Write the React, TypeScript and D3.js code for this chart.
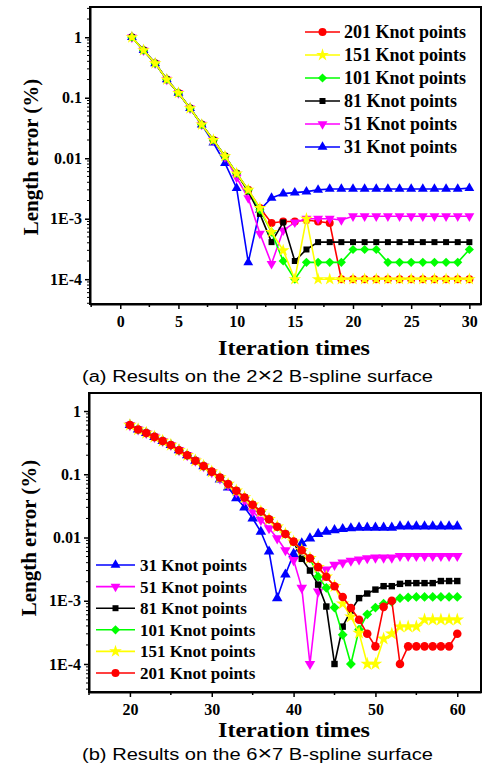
import React, { useEffect, useRef } from 'react';
import * as d3 from 'd3';

// ---- panel (a): 2x2 B-spline surface, iterations 1..30 ----
const itersA = [1, 2, 3, 4, 5, 6, 7, 8, 9, 10, 11, 12, 13, 14, 15, 16, 17, 18, 19, 20, 21, 22, 23, 24, 25, 26, 27, 28, 29, 30];

const a201 = [1, 0.61, 0.37, 0.2, 0.12, 0.067, 0.036, 0.02, 0.0108, 0.0056, 0.003, 0.0015, 8.5e-4, 9e-4, 9e-4, 9.5e-4, 9e-4, 8.5e-4, 1e-4, 1e-4, 1e-4, 1e-4, 1e-4, 1e-4, 1e-4, 1e-4, 1e-4, 1e-4, 1e-4, 1e-4];
const a151 = [1, 0.61, 0.37, 0.2, 0.12, 0.067, 0.036, 0.02, 0.0108, 0.0056, 0.003, 0.0015, 6e-4, 3e-4, 1e-4, 1e-3, 1e-4, 1e-4, 1e-4, 1e-4, 1e-4, 1e-4, 1e-4, 1e-4, 1e-4, 1e-4, 1e-4, 1e-4, 1e-4, 1e-4];
const a101 = [1, 0.61, 0.37, 0.2, 0.12, 0.067, 0.036, 0.02, 0.0108, 0.0056, 0.003, 0.0014, 6e-4, 2e-4, 1e-4, 1.9e-4, 1.9e-4, 1.9e-4, 1.9e-4, 3.1e-4, 3.1e-4, 3.1e-4, 1.9e-4, 1.9e-4, 1.9e-4, 1.9e-4, 1.9e-4, 1.9e-4, 1.9e-4, 3.1e-4];
const a81 = [1, 0.61, 0.37, 0.2, 0.12, 0.067, 0.036, 0.02, 0.0108, 0.0056, 0.0028, 0.0012, 4.1e-4, 8.7e-4, 2e-4, 3.1e-4, 4.1e-4, 4.1e-4, 4.1e-4, 4.1e-4, 4.1e-4, 4.1e-4, 4.1e-4, 4.1e-4, 4.1e-4, 4.1e-4, 4.1e-4, 4.1e-4, 4.1e-4, 4.1e-4];
const a51 = [1, 0.61, 0.37, 0.2, 0.12, 0.067, 0.036, 0.02, 0.0105, 0.0048, 0.0022, 5.7e-4, 1.8e-4, 6.4e-4, 8.7e-4, 1e-3, 1e-3, 1e-3, 9.5e-4, 1.1e-3, 1.1e-3, 1.1e-3, 1.1e-3, 1.1e-3, 1.1e-3, 1.1e-3, 1.1e-3, 1.1e-3, 1.1e-3, 1.1e-3];
const a31 = [1, 0.61, 0.37, 0.2, 0.12, 0.067, 0.036, 0.018, 0.0083, 0.0032, 1.9e-4, 1.4e-3, 2.2e-3, 2.6e-3, 2.7e-3, 2.8e-3, 3e-3, 3.1e-3, 3.1e-3, 3.1e-3, 3.1e-3, 3.1e-3, 3.1e-3, 3.1e-3, 3.1e-3, 3.1e-3, 3.1e-3, 3.1e-3, 3.1e-3, 3.2e-3];

// ---- panel (b): 6x7 B-spline surface, iterations 20..60 ----
const itersB = [20, 21, 22, 23, 24, 25, 26, 27, 28, 29, 30, 31, 32, 33, 34, 35, 36, 37, 38, 39, 40, 41, 42, 43, 44, 45, 46, 47, 48, 49, 50, 51, 52, 53, 54, 55, 56, 57, 58, 59, 60];

const b201 = [0.6, 0.51, 0.45, 0.39, 0.336, 0.29, 0.24, 0.2, 0.164, 0.135, 0.11, 0.089, 0.07, 0.055, 0.043, 0.033, 0.0257, 0.0195, 0.0148, 0.0114, 0.0086, 0.0063, 0.0047, 0.0034, 0.0024, 0.0017, 0.00115, 7.7e-4, 5e-4, 3e-4, 1.9e-4, 8e-4, 1e-3, 1e-4, 1.9e-4, 1.9e-4, 1.9e-4, 1.9e-4, 1.9e-4, 1.9e-4, 3e-4];
const b151 = [0.6, 0.51, 0.45, 0.39, 0.336, 0.29, 0.24, 0.2, 0.164, 0.135, 0.11, 0.089, 0.07, 0.055, 0.043, 0.033, 0.0257, 0.0195, 0.0148, 0.0114, 0.0086, 0.0063, 0.0047, 0.0034, 0.0024, 0.0017, 9e-4, 5.6e-4, 3.1e-4, 1e-4, 1e-4, 2.5e-4, 3e-4, 3.9e-4, 3.9e-4, 3.9e-4, 5e-4, 5e-4, 5e-4, 5e-4, 5e-4];
const b101 = [0.6, 0.51, 0.45, 0.39, 0.336, 0.29, 0.24, 0.2, 0.164, 0.135, 0.11, 0.089, 0.07, 0.055, 0.043, 0.033, 0.0257, 0.0195, 0.0148, 0.0114, 0.0086, 0.0063, 0.0047, 0.0024, 0.0016, 7.8e-4, 2.9e-4, 1e-4, 3.5e-4, 6.1e-4, 7.8e-4, 9e-4, 9.6e-4, 1.1e-3, 1.13e-3, 1.15e-3, 1.15e-3, 1.15e-3, 1.15e-3, 1.15e-3, 1.15e-3];
const b81 = [0.6, 0.51, 0.45, 0.39, 0.336, 0.29, 0.24, 0.2, 0.164, 0.135, 0.11, 0.089, 0.07, 0.055, 0.043, 0.033, 0.0257, 0.0195, 0.0148, 0.0114, 0.0086, 0.0046, 0.003, 0.0018, 8.1e-4, 1e-4, 3.9e-4, 7e-4, 1.1e-3, 1.3e-3, 1.5e-3, 1.7e-3, 1.7e-3, 1.85e-3, 1.9e-3, 1.9e-3, 1.9e-3, 1.9e-3, 2.05e-3, 2.05e-3, 2.05e-3];
const b51 = [0.6, 0.51, 0.45, 0.39, 0.336, 0.29, 0.24, 0.2, 0.164, 0.134, 0.108, 0.086, 0.067, 0.052, 0.039, 0.026, 0.019, 0.014, 0.0097, 0.0063, 0.0044, 0.0016, 1e-4, 1.4e-3, 3.1e-3, 3.7e-3, 4e-3, 4.3e-3, 4.5e-3, 4.7e-3, 4.8e-3, 4.8e-3, 4.8e-3, 5.1e-3, 5.1e-3, 5.1e-3, 5.1e-3, 5.1e-3, 5.1e-3, 5.1e-3, 5.1e-3];
const b31 = [0.6, 0.51, 0.45, 0.39, 0.336, 0.29, 0.24, 0.2, 0.164, 0.134, 0.107, 0.083, 0.062, 0.042, 0.03, 0.02, 0.0123, 0.006, 1.1e-3, 2.6e-3, 5.5e-3, 8.1e-3, 9.7e-3, 0.0114, 0.0123, 0.0131, 0.0136, 0.014, 0.0143, 0.0143, 0.0143, 0.0143, 0.0143, 0.015, 0.015, 0.015, 0.015, 0.015, 0.015, 0.015, 0.015];

const knotKeys = ['201', '151', '101', '81', '51', '31'];
const knotLabels = ['201 Knot points', '151 Knot points', '101 Knot points', '81 Knot points', '51 Knot points', '31 Knot points'];

const yTickVals = [1, 0.1, 0.01, 1e-3, 1e-4];
const yTickText = ['1', '0.1', '0.01', '1E-3', '1E-4'];
const xTicksA = [0, 5, 10, 15, 20, 25, 30];
const xTicksB = [20, 30, 40, 50, 60];

const styles = {
  '201': { color: '#ff0000', symbol: d3.symbolCircle, size: 50, rot: 0 },
  '151': { color: '#ffff00', symbol: d3.symbolStar, size: 50, rot: 0 },
  '101': { color: '#00ff00', symbol: d3.symbolSquare, size: 42, rot: 45 },
  '81': { color: '#000000', symbol: d3.symbolSquare, size: 36, rot: 0 },
  '51': { color: '#ff00ff', symbol: d3.symbolTriangle, size: 42, rot: 180 },
  '31': { color: '#0000ff', symbol: d3.symbolTriangle, size: 42, rot: 0 },
};

const panels = [
  {
    left: 90, right: 481, top: 7, bottom: 304,
    xDomain: [-2.6, 31], yDomain: [Math.pow(10, -4.41), Math.pow(10, 0.5)],
    xTicks: xTicksA, xMinor: 2.5, iters: itersA,
    values: { '201': a201, '151': a151, '101': a101, '81': a81, '51': a51, '31': a31 },
    order: ['201', '31', '51', '81', '101', '151'],
    legend: { x0: 305, x1: 340, tx: 344, y0: 32, dy: 23, keys: ['201', '151', '101', '81', '51', '31'], font: 18 },
    markScale: 1,
    ylabel: { x: 38, y: 157 }, xlabelY: 355, captionY: 382,
    caption: ['(a) Results on the 2', '×', '2 B-spline surface'],
  },
  {
    left: 89, right: 481, top: 393, bottom: 692,
    xDomain: [15, 62.9], yDomain: [Math.pow(10, -4.443), Math.pow(10, 0.285)],
    xTicks: xTicksB, xMinor: 5, iters: itersB,
    values: { '201': b201, '151': b151, '101': b101, '81': b81, '51': b51, '31': b31 },
    order: ['31', '51', '81', '101', '151', '201'],
    legend: { x0: 96, x1: 135, tx: 140, y0: 565, dy: 21.6, keys: ['31', '51', '81', '101', '151', '201'], font: 17 },
    markScale: 1.15,
    ylabel: { x: 36, y: 538 }, xlabelY: 737, captionY: 760,
    caption: ['(b) Results on the 6', '×', '7 B-spline surface'],
  },
];

const serif = '"Liberation Serif", "Times New Roman", serif';
const sans = '"Liberation Sans", Arial, sans-serif';

const markPath = (key, scale) => {
  const st = styles[key];
  return d3.symbol().type(st.symbol).size(st.size * scale)();
};

const drawPanel = (svg, p) => {
  const x = d3.scaleLinear().domain(p.xDomain).range([p.left, p.right]);
  const y = d3.scaleLog().domain(p.yDomain).range([p.bottom, p.top]);
  const g = svg.append('g');

  // frame
  g.append('rect')
    .attr('x', p.left).attr('y', p.top)
    .attr('width', p.right - p.left).attr('height', p.bottom - p.top)
    .attr('fill', 'none').attr('stroke', '#000').attr('stroke-width', 2);

  // minor log ticks
  const minorY = [];
  for (let e = -5; e <= 1; e++) {
    for (let m = 2; m <= 9; m++) {
      const v = m * Math.pow(10, e);
      if (v >= p.yDomain[0] && v <= p.yDomain[1]) minorY.push(v);
    }
  }
  g.selectAll('.ymin').data(minorY).enter().append('line')
    .attr('x1', p.left - 3).attr('x2', p.left)
    .attr('y1', d => y(d)).attr('y2', d => y(d))
    .attr('stroke', '#000').attr('stroke-width', 1);

  const yAxis = d3.axisLeft(y).tickValues(yTickVals)
    .tickFormat((d, i) => yTickText[i]).tickSizeInner(5).tickSizeOuter(0).tickPadding(3);
  const ya = g.append('g').attr('transform', `translate(${p.left},0)`).call(yAxis);
  ya.select('.domain').attr('stroke-width', 2);
  ya.selectAll('.tick line').attr('stroke-width', 1.5);
  ya.selectAll('text').attr('font-family', serif).attr('font-weight', 'bold').attr('font-size', 16).attr('fill', '#000');

  // minor x ticks
  const minorX = [];
  for (let v = Math.ceil(p.xDomain[0] / p.xMinor) * p.xMinor; v <= p.xDomain[1]; v += p.xMinor) {
    if (!p.xTicks.includes(v)) minorX.push(v);
  }
  g.selectAll('.xmin').data(minorX).enter().append('line')
    .attr('x1', d => x(d)).attr('x2', d => x(d))
    .attr('y1', p.bottom).attr('y2', p.bottom + 3)
    .attr('stroke', '#000').attr('stroke-width', 1.5);

  const xAxis = d3.axisBottom(x).tickValues(p.xTicks).tickFormat(d3.format('d'))
    .tickSizeInner(5).tickSizeOuter(0).tickPadding(7);
  const xa = g.append('g').attr('transform', `translate(0,${p.bottom})`).call(xAxis);
  xa.select('.domain').attr('stroke-width', 2);
  xa.selectAll('.tick line').attr('stroke-width', 1.5);
  xa.selectAll('text').attr('font-family', serif).attr('font-weight', 'bold').attr('font-size', 16).attr('fill', '#000');

  // series
  const line = d3.line().x((d, i) => x(p.iters[i])).y(d => y(d));
  p.order.forEach(key => {
    const st = styles[key];
    const vals = p.values[key];
    g.append('path').attr('d', line(vals))
      .attr('fill', 'none').attr('stroke', st.color).attr('stroke-width', 1.6);
    g.selectAll(null).data(vals).enter().append('path')
      .attr('d', markPath(key, p.markScale))
      .attr('transform', (d, i) => `translate(${x(p.iters[i])},${y(d)}) rotate(${st.rot})`)
      .attr('fill', st.color);
  });

  // legend
  p.legend.keys.forEach((key, i) => {
    const st = styles[key];
    const cy = p.legend.y0 + i * p.legend.dy;
    const mx = (p.legend.x0 + p.legend.x1) / 2;
    g.append('line').attr('x1', p.legend.x0).attr('x2', p.legend.x1)
      .attr('y1', cy).attr('y2', cy).attr('stroke', st.color).attr('stroke-width', 1.6);
    g.append('path').attr('d', markPath(key, 1))
      .attr('transform', `translate(${mx},${cy}) rotate(${st.rot})`).attr('fill', st.color);
    g.append('text').attr('x', p.legend.tx).attr('y', cy + 6)
      .attr('font-family', serif).attr('font-weight', 'bold').attr('font-size', p.legend.font)
      .text(knotLabels[knotKeys.indexOf(key)]);
  });

  // axis titles
  g.append('text')
    .attr('transform', `translate(${p.ylabel.x},${p.ylabel.y}) rotate(-90)`)
    .attr('text-anchor', 'middle')
    .attr('font-family', serif).attr('font-weight', 'bold').attr('font-size', 21)
    .text('Length error (%)');

  g.append('text')
    .attr('x', 294).attr('y', p.xlabelY).attr('text-anchor', 'middle')
    .attr('font-family', serif).attr('font-weight', 'bold').attr('font-size', 20)
    .attr('textLength', 152).attr('lengthAdjust', 'spacingAndGlyphs')
    .text('Iteration times');

  const cap = g.append('text')
    .attr('x', 82).attr('y', p.captionY)
    .attr('font-family', sans).attr('font-size', 16)
    .attr('textLength', 351).attr('lengthAdjust', 'spacingAndGlyphs');
  cap.append('tspan').text(p.caption[0]);
  cap.append('tspan').attr('font-size', 20).attr('font-weight', 300).text(p.caption[1]);
  cap.append('tspan').text(p.caption[2]);
};

export default function App() {
  const svgRef = useRef(null);

  useEffect(() => {
    const svg = d3.select(svgRef.current);
    svg.selectAll('*').remove();
    panels.forEach(p => drawPanel(svg, p));
  }, []);

  return (
    <svg
      ref={svgRef}
      width={496}
      height={771}
      style={{ position: 'absolute', left: 0, top: 0, background: '#fff' }}
    />
  );
}
